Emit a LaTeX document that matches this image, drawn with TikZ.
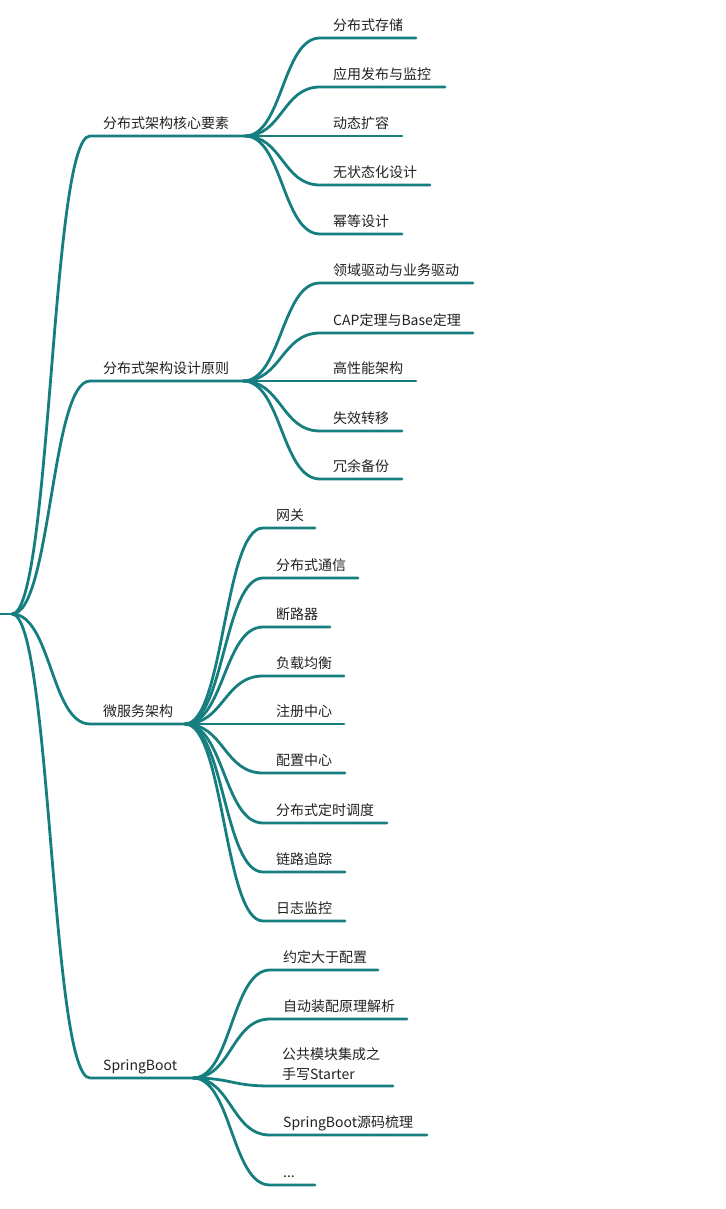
\documentclass[tikz,border=0pt]{standalone}
\usepackage{fontspec}
\setmainfont{Noto Sans CJK SC}
\definecolor{mmline}{HTML}{177E80}
\definecolor{mmtext}{HTML}{222222}
\tikzset{
  br/.style={draw=mmline, line width=2.8pt, line cap=round},
  lbl/.style={anchor=base west, inner sep=0pt, text=mmtext, font=\fontsize{14}{19.5}\selectfont},
}
\newcommand\mmkid[8]{%
  \pgfmathsetmacro\mmmid{(#2+#4)/2}%
  \coordinate (#7s) at (#4,#5);
  \coordinate (#7e) at (#6,#5);
  \node[lbl] (#7) at (#4+13,#5-7.5) {#8};
  \draw[br] (#1) .. controls (\mmmid,#3) and (\mmmid,#5) .. (#7s) -- (#7e);
}
\begin{document}
\begin{tikzpicture}[x=1pt,y=-1pt]
\useasboundingbox[fill=white] (0,0) rectangle (725,1209);
% root
\coordinate (r0) at (0,614);
\coordinate (r) at (12,614);
\draw[br, line cap=butt] (r0) -- (r);
% level 1
\mmkid{r}{12}{614}{90}{136}{245}{a}{分布式架构核心要素}
\mmkid{r}{12}{614}{90}{381}{243}{b}{分布式架构设计原则}
\mmkid{r}{12}{614}{90}{724}{185}{c}{微服务架构}
\mmkid{r}{12}{614}{90}{1078}{193}{d}{SpringBoot}
\coordinate (aj) at (245,136);
\coordinate (bj) at (243,381);
\coordinate (cj) at (185,724);
\coordinate (dj) at (193,1078);
% branch a
\mmkid{aj}{245}{136}{320}{38}{416}{a1}{分布式存储}
\mmkid{aj}{245}{136}{320}{87}{445}{a2}{应用发布与监控}
\mmkid{aj}{245}{136}{320}{136}{402}{a3}{动态扩容}
\mmkid{aj}{245}{136}{320}{185}{430}{a4}{无状态化设计}
\mmkid{aj}{245}{136}{320}{234}{402}{a5}{幂等设计}
% branch b
\mmkid{bj}{243}{381}{320}{283}{473}{b1}{领域驱动与业务驱动}
\mmkid{bj}{243}{381}{320}{333}{473}{b2}{CAP定理与Base定理}
\mmkid{bj}{243}{381}{320}{381}{416}{b3}{高性能架构}
\mmkid{bj}{243}{381}{320}{431}{402}{b4}{失效转移}
\mmkid{bj}{243}{381}{320}{479}{402}{b5}{冗余备份}
% branch c
\mmkid{cj}{185}{724}{263}{528}{315}{c1}{网关}
\mmkid{cj}{185}{724}{263}{578}{358}{c2}{分布式通信}
\mmkid{cj}{185}{724}{263}{627}{330}{c3}{断路器}
\mmkid{cj}{185}{724}{263}{676}{344}{c4}{负载均衡}
\mmkid{cj}{185}{724}{263}{724}{344}{c5}{注册中心}
\mmkid{cj}{185}{724}{263}{773}{345}{c6}{配置中心}
\mmkid{cj}{185}{724}{263}{823}{387}{c7}{分布式定时调度}
\mmkid{cj}{185}{724}{263}{872}{345}{c8}{链路追踪}
\mmkid{cj}{185}{724}{263}{921}{345}{c9}{日志监控}
% branch d
\mmkid{dj}{193}{1078}{270}{970}{378}{d1}{约定大于配置}
\mmkid{dj}{193}{1078}{270}{1019}{407}{d2}{自动装配原理解析}
\coordinate (d3s) at (270,1086);
\coordinate (d3e) at (393,1086);
\node[lbl, anchor=south west, align=left] (d3) at (282,1080.3) {公共模块集成之\\手写Starter};
\draw[br] (dj) .. controls (231.5,1078) and (231.5,1086) .. (d3s) -- (d3e);
\mmkid{dj}{193}{1078}{270}{1135}{427}{d4}{SpringBoot源码梳理}
\mmkid{dj}{193}{1078}{270}{1185}{315}{d5}{...}
\end{tikzpicture}
\end{document}
